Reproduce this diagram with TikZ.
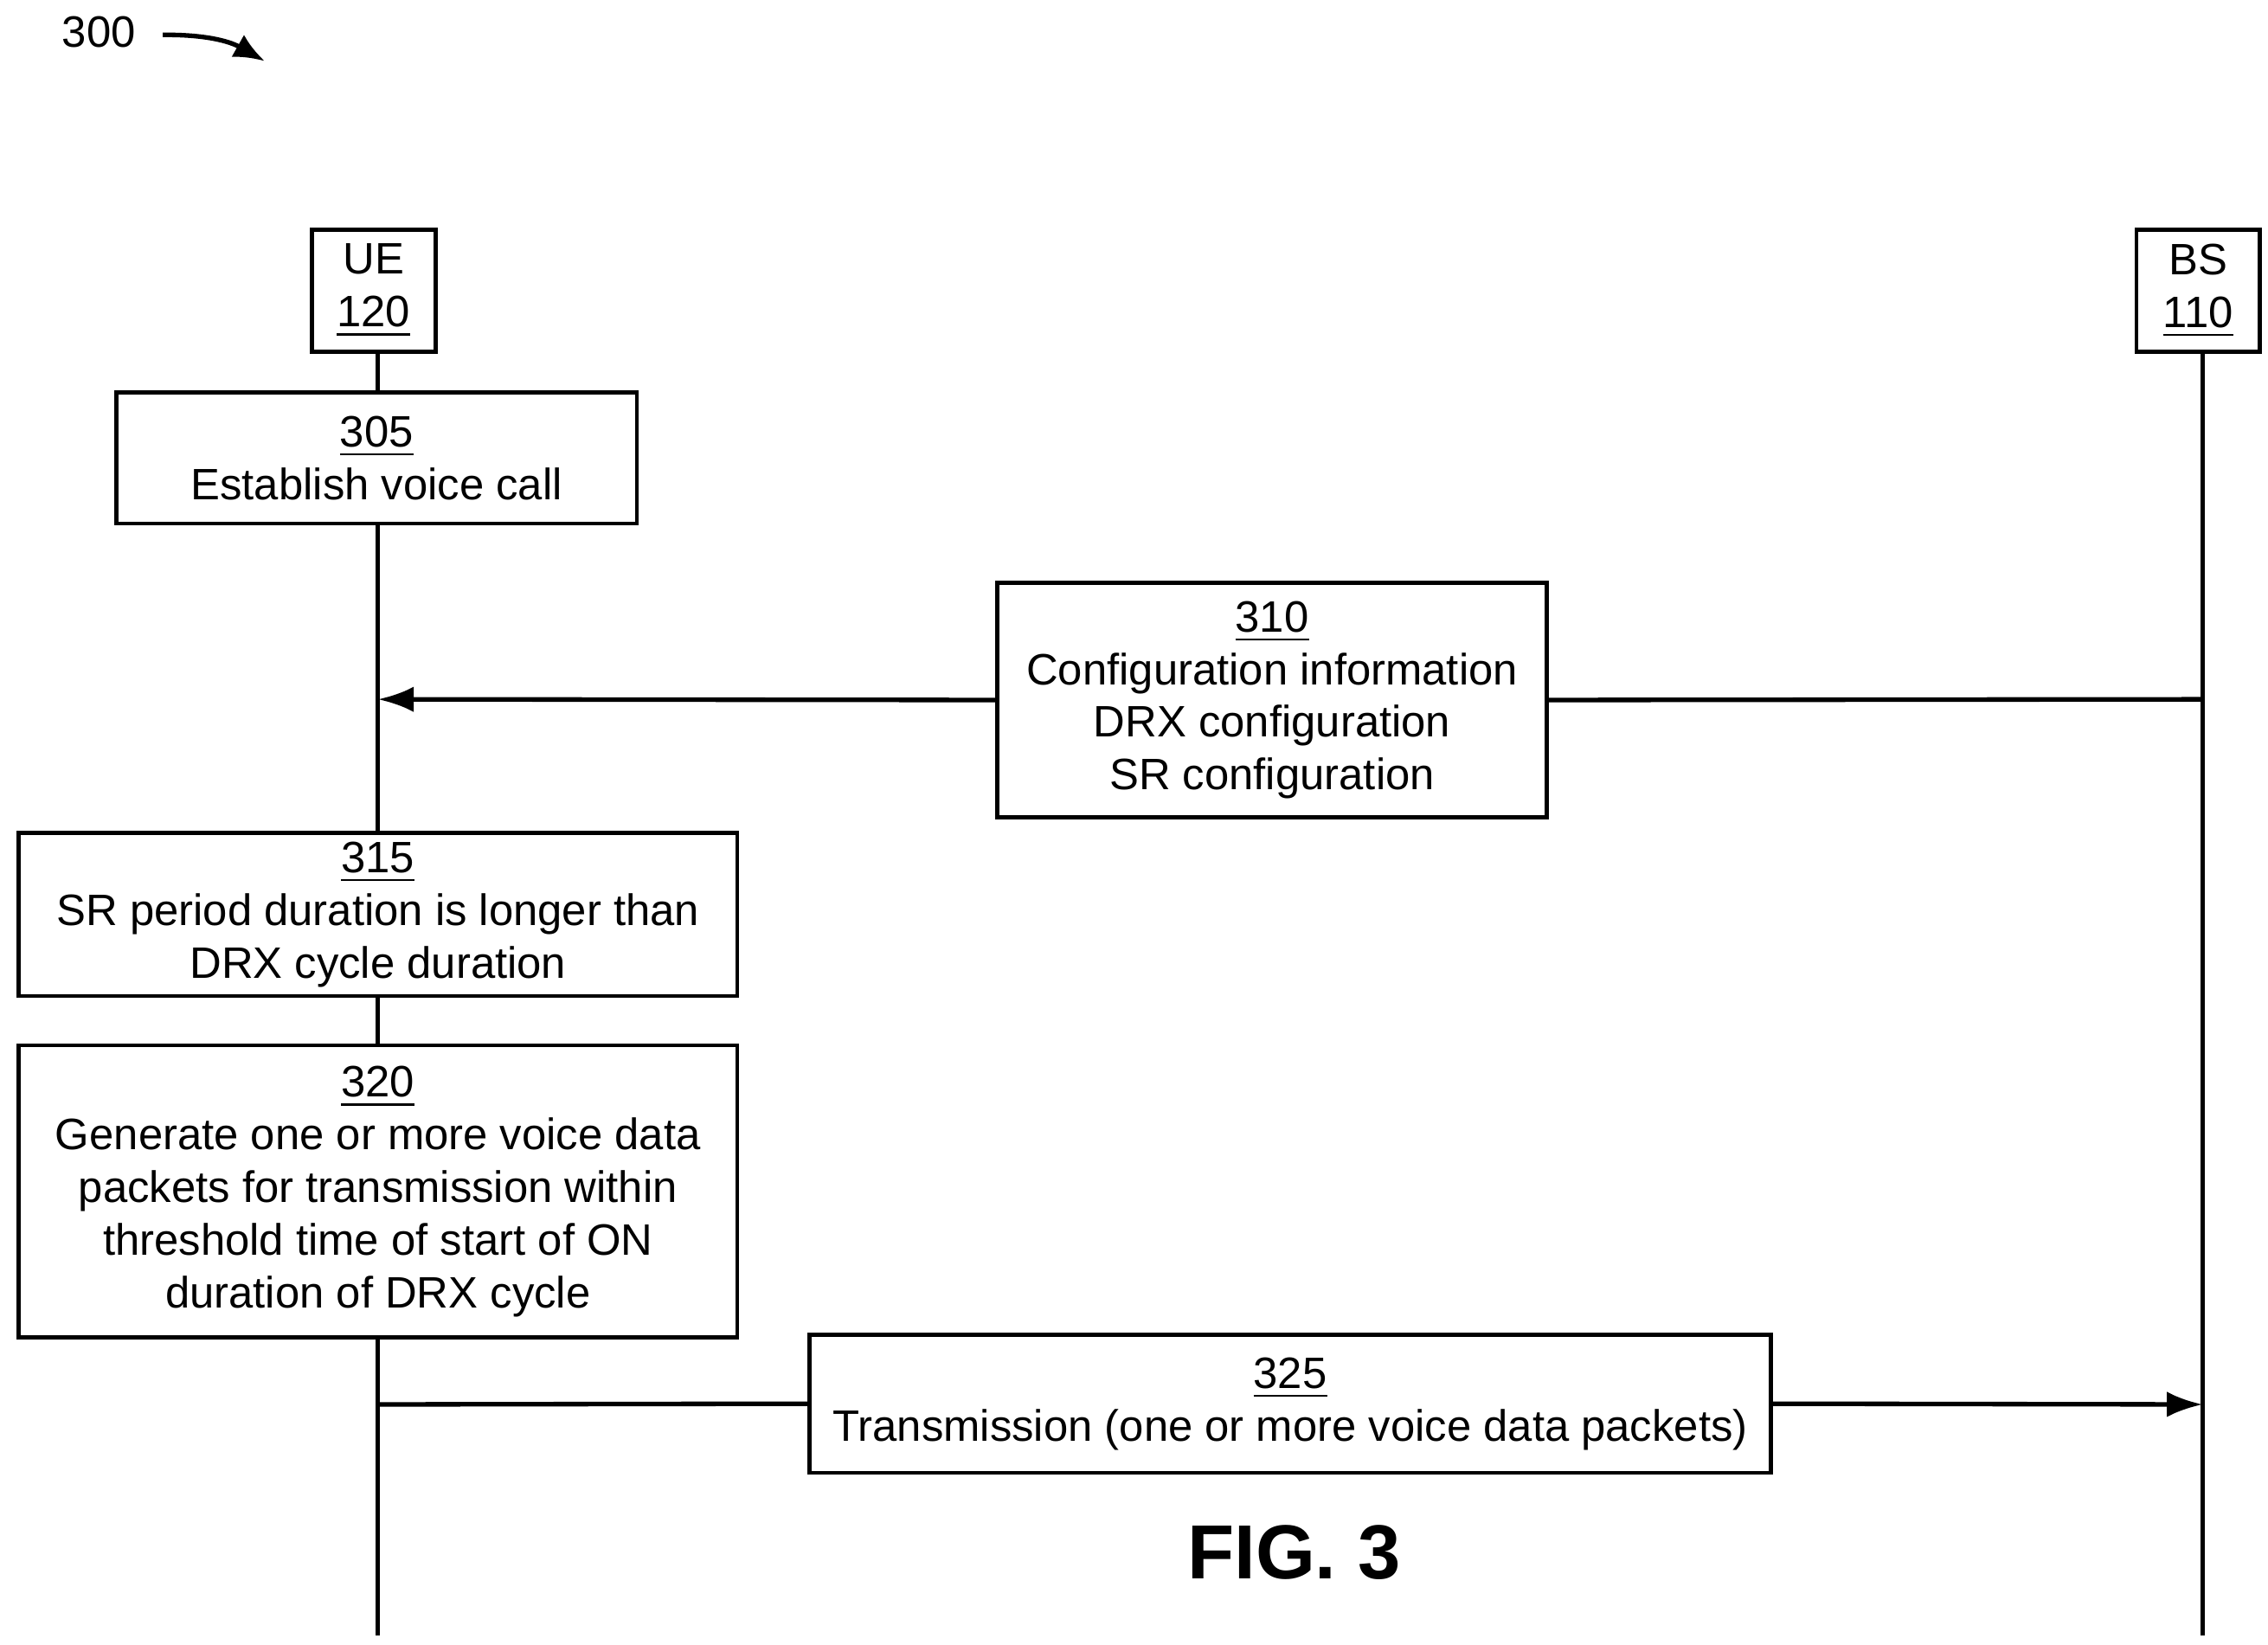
\documentclass[tikz,border=0pt]{standalone}
\usepackage{fontspec}
\setmainfont{Liberation Sans}
\usetikzlibrary{arrows.meta, positioning, calc}

\tikzset{
  entity/.style={draw, line width=0.8pt, align=center, font=\fontsize{8.6}{10.3}\selectfont, minimum width=0.85cm, minimum height=0.84cm, inner sep=0pt},
  stepbox/.style={draw, line width=0.8pt, align=center, font=\fontsize{8.6}{10.3}\selectfont, inner sep=0pt},
  life/.style={line width=0.9pt},
  msg/.style={line width=0.9pt, -{Latex[length=7pt, width=5pt]}}
}

\begin{document}
\begin{tikzpicture}[x=0.01cm, y=-0.01cm]
  \useasboundingbox (0,0) rectangle (1560,1131);

  % entities
  \node[entity] (ue) at (257,200) {UE\\\underline{120}};
  \node[entity] (bs) at (1512,200) {BS\\\underline{110}};
  \coordinate (ueend) at (260,1125);
  \coordinate (bsend) at (1515,1125);
  \draw[life] (260,242) -- (ueend);
  \draw[life] (1515,242) -- (bsend);

  % steps on UE side
  \node[stepbox, minimum width=3.58cm, minimum height=0.9cm, fill=white] (s305) at (259,315) {\underline{305}\\Establish voice call};
  \node[stepbox, minimum width=4.94cm, minimum height=1.12cm, fill=white] (s315) at (260,629) {\underline{315}\\SR period duration is longer than\\DRX cycle duration};
  \node[stepbox, minimum width=4.94cm, minimum height=2.01cm, fill=white] (s320) at (260,819.5) {\underline{320}\\Generate one or more voice data\\packets for transmission within\\threshold time of start of ON\\duration of DRX cycle};

  % messages
  \coordinate (bs310) at (1515,481);
  \coordinate (ue310) at (260,481);
  \coordinate (ue325) at (260,966);
  \coordinate (bs325) at (1515,966);
  \node[stepbox, minimum width=3.78cm, minimum height=1.61cm, fill=white] (m310) at (875,481.5) {\underline{310}\\Configuration information\\DRX configuration\\SR configuration};
  \draw[life] (bs310) -- (m310.east);
  \draw[msg] (m310.west) -- (ue310);
  \node[stepbox, minimum width=6.61cm, minimum height=0.95cm, fill=white] (m325) at (887.5,965.5) {\underline{325}\\Transmission (one or more voice data packets)};
  \draw[life] (ue325) -- (m325.west);
  \draw[msg] (m325.east) -- (bs325);

  % labels
  \node[font=\fontsize{15}{15}\selectfont\bfseries] (fig) at (890,1068) {FIG. 3};
  \node[font=\fontsize{8.6}{10}\selectfont] (ref) at (68,22) {300};
  \coordinate (refend) at (182,42);
  \draw[line width=0.9pt, -{Latex[length=6pt, width=5pt]}] (112,24) to[bend left=15] (refend);
\end{tikzpicture}
\end{document}
